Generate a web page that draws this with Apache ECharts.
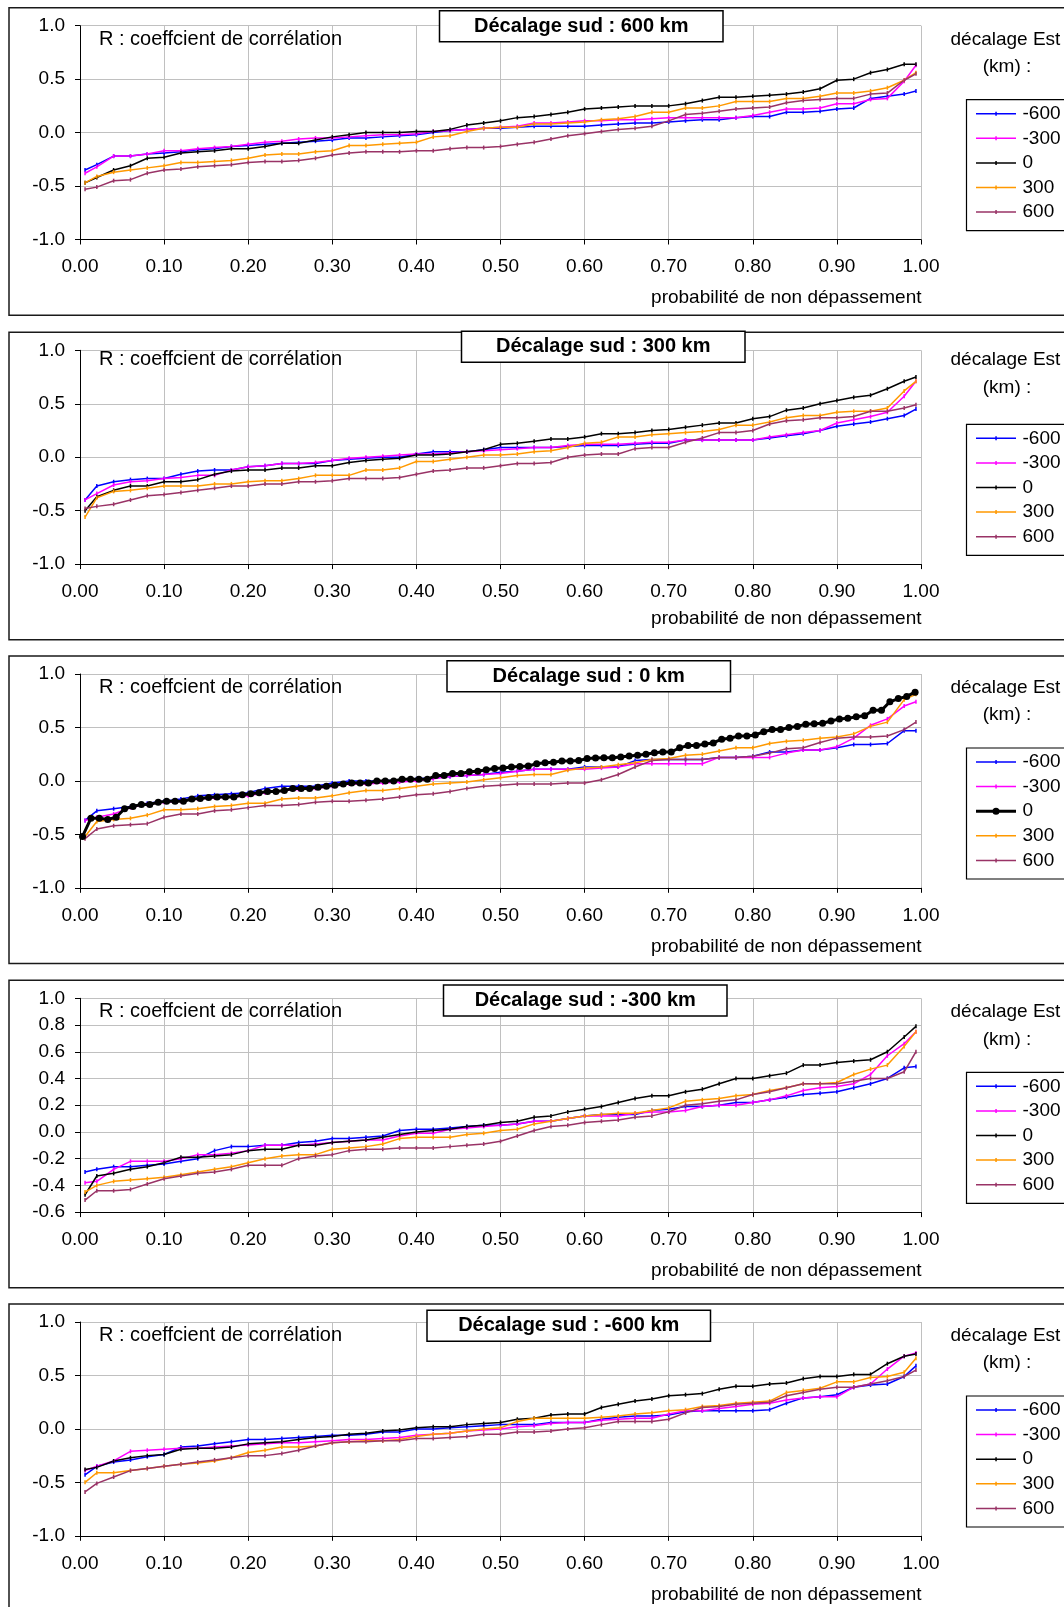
<!DOCTYPE html>
<html><head><meta charset="utf-8">
<script src="https://cdn.jsdelivr.net/npm/echarts/dist/echarts.min.js"></script>
<style>html,body{margin:0;padding:0;background:#fff;}#c{width:1064px;height:1607px;}</style>
</head><body><div id="c"></div>
<script>
// ---------------- DATA ----------------
const PROB = [0.006,0.02,0.04,0.06,0.08,0.10,0.12,0.14,0.16,0.18,0.20,0.22,0.24,0.26,0.28,0.30,0.32,0.34,0.36,0.38,0.40,0.42,0.44,0.46,0.48,0.50,0.52,0.54,0.56,0.58,0.60,0.62,0.64,0.66,0.68,0.70,0.72,0.74,0.76,0.78,0.80,0.82,0.84,0.86,0.88,0.90,0.92,0.94,0.96,0.98,0.994];
const PROB_FINE = [0.003,0.013,0.023,0.033,0.043,0.053,0.063,0.073,0.083,0.093,0.103,0.113,0.123,0.133,0.143,0.153,0.163,0.173,0.183,0.193,0.203,0.213,0.223,0.233,0.243,0.253,0.263,0.273,0.283,0.293,0.303,0.313,0.323,0.333,0.343,0.353,0.363,0.373,0.383,0.393,0.403,0.413,0.423,0.433,0.443,0.453,0.463,0.473,0.483,0.493,0.503,0.513,0.523,0.533,0.543,0.553,0.563,0.573,0.583,0.593,0.603,0.613,0.623,0.633,0.643,0.653,0.663,0.673,0.683,0.693,0.703,0.713,0.723,0.733,0.743,0.753,0.763,0.773,0.783,0.793,0.803,0.813,0.823,0.833,0.843,0.853,0.863,0.873,0.883,0.893,0.903,0.913,0.923,0.933,0.943,0.953,0.963,0.973,0.983,0.993];

const SERIES_NAMES = ['-600','-300','0','300','600'];
const PANEL_TITLES = ['Décalage sud : 600 km','Décalage sud : 300 km','Décalage sud : 0 km','Décalage sud : -300 km','Décalage sud : -600 km'];
const X_TICKS = [0,0.1,0.2,0.3,0.4,0.5,0.6,0.7,0.8,0.9,1.0];

// Panel 1 : décalage sud 600 km
const P1_M600 = [-0.35,-0.30,-0.22,-0.22,-0.20,-0.19,-0.18,-0.16,-0.15,-0.13,-0.12,-0.11,-0.10,-0.09,-0.08,-0.07,-0.05,-0.05,-0.04,-0.03,-0.02,0.00,0.02,0.03,0.04,0.04,0.05,0.06,0.06,0.06,0.06,0.07,0.08,0.09,0.09,0.10,0.11,0.12,0.12,0.14,0.15,0.15,0.19,0.19,0.20,0.22,0.23,0.32,0.34,0.36,0.39];
const P1_M300 = [-0.38,-0.32,-0.22,-0.22,-0.20,-0.17,-0.17,-0.15,-0.14,-0.13,-0.11,-0.09,-0.08,-0.06,-0.05,-0.05,-0.04,-0.03,-0.02,-0.02,-0.01,0.01,0.02,0.03,0.04,0.05,0.06,0.09,0.09,0.10,0.11,0.11,0.12,0.12,0.13,0.14,0.14,0.14,0.14,0.14,0.16,0.19,0.22,0.22,0.23,0.27,0.27,0.31,0.32,0.48,0.63];
const P1_0    = [-0.47,-0.42,-0.35,-0.31,-0.24,-0.23,-0.19,-0.18,-0.17,-0.15,-0.15,-0.13,-0.10,-0.10,-0.07,-0.04,-0.02,0.00,0.00,0.00,0.01,0.01,0.03,0.07,0.09,0.11,0.14,0.15,0.17,0.19,0.22,0.23,0.24,0.25,0.25,0.25,0.27,0.30,0.33,0.33,0.34,0.35,0.36,0.38,0.41,0.49,0.50,0.56,0.59,0.64,0.64];
const P1_300  = [-0.47,-0.41,-0.37,-0.35,-0.33,-0.31,-0.28,-0.28,-0.27,-0.26,-0.24,-0.21,-0.20,-0.20,-0.18,-0.17,-0.12,-0.12,-0.11,-0.10,-0.09,-0.04,-0.03,0.01,0.04,0.05,0.05,0.08,0.08,0.09,0.10,0.12,0.13,0.15,0.19,0.19,0.23,0.23,0.25,0.29,0.29,0.29,0.32,0.32,0.34,0.37,0.37,0.39,0.42,0.49,0.56];
const P1_600  = [-0.53,-0.51,-0.45,-0.44,-0.38,-0.35,-0.34,-0.32,-0.31,-0.30,-0.28,-0.27,-0.27,-0.26,-0.24,-0.21,-0.19,-0.18,-0.18,-0.18,-0.17,-0.17,-0.15,-0.14,-0.14,-0.13,-0.11,-0.09,-0.06,-0.03,-0.01,0.01,0.03,0.04,0.06,0.11,0.17,0.18,0.20,0.22,0.23,0.24,0.28,0.30,0.31,0.32,0.32,0.36,0.37,0.49,0.55];

// Panel 2 : décalage sud 300 km
const P2_M600 = [-0.40,-0.27,-0.23,-0.21,-0.20,-0.20,-0.16,-0.13,-0.12,-0.12,-0.09,-0.08,-0.06,-0.06,-0.06,-0.03,-0.02,-0.01,0.00,0.00,0.03,0.05,0.05,0.05,0.07,0.09,0.09,0.09,0.09,0.10,0.11,0.11,0.11,0.12,0.13,0.13,0.16,0.16,0.16,0.16,0.16,0.18,0.20,0.22,0.25,0.29,0.31,0.33,0.36,0.39,0.45];
const P2_M300 = [-0.40,-0.34,-0.26,-0.23,-0.22,-0.20,-0.19,-0.17,-0.17,-0.12,-0.09,-0.08,-0.06,-0.06,-0.05,-0.03,-0.01,0.00,0.01,0.02,0.03,0.03,0.04,0.05,0.06,0.07,0.08,0.09,0.09,0.11,0.12,0.12,0.12,0.13,0.14,0.14,0.16,0.16,0.16,0.16,0.16,0.19,0.21,0.23,0.25,0.32,0.35,0.38,0.42,0.57,0.71];
const P2_0    = [-0.50,-0.37,-0.31,-0.27,-0.27,-0.23,-0.23,-0.21,-0.16,-0.13,-0.12,-0.12,-0.10,-0.10,-0.08,-0.08,-0.05,-0.03,-0.02,-0.01,0.02,0.02,0.03,0.05,0.07,0.12,0.13,0.15,0.17,0.17,0.19,0.22,0.22,0.23,0.25,0.26,0.28,0.30,0.32,0.32,0.36,0.38,0.44,0.46,0.50,0.53,0.56,0.58,0.64,0.71,0.75];
const P2_300  = [-0.56,-0.38,-0.32,-0.31,-0.29,-0.27,-0.27,-0.27,-0.25,-0.25,-0.23,-0.22,-0.22,-0.20,-0.17,-0.17,-0.17,-0.12,-0.12,-0.10,-0.04,-0.04,-0.02,0.00,0.02,0.02,0.03,0.05,0.06,0.09,0.13,0.14,0.19,0.19,0.21,0.22,0.23,0.24,0.26,0.30,0.30,0.33,0.37,0.39,0.39,0.42,0.43,0.43,0.46,0.62,0.71];
const P2_600  = [-0.48,-0.46,-0.44,-0.40,-0.36,-0.35,-0.33,-0.31,-0.29,-0.27,-0.27,-0.25,-0.25,-0.23,-0.23,-0.22,-0.20,-0.20,-0.20,-0.19,-0.16,-0.13,-0.12,-0.10,-0.10,-0.08,-0.06,-0.06,-0.05,0.00,0.02,0.03,0.03,0.08,0.09,0.09,0.14,0.18,0.23,0.23,0.25,0.31,0.34,0.35,0.37,0.37,0.38,0.43,0.43,0.46,0.49];

// Panel 3 : décalage sud 0 km
const P3_M600 = [-0.37,-0.28,-0.26,-0.24,-0.21,-0.19,-0.17,-0.14,-0.13,-0.12,-0.11,-0.07,-0.05,-0.05,-0.05,-0.02,0.00,0.00,0.00,0.01,0.02,0.03,0.04,0.05,0.06,0.08,0.09,0.11,0.11,0.11,0.13,0.13,0.13,0.19,0.20,0.20,0.20,0.20,0.22,0.22,0.23,0.27,0.27,0.29,0.29,0.31,0.34,0.34,0.35,0.47,0.47];
const P3_M300 = [-0.37,-0.34,-0.31,-0.25,-0.22,-0.20,-0.19,-0.17,-0.16,-0.15,-0.14,-0.11,-0.09,-0.08,-0.07,-0.05,-0.03,-0.03,-0.02,-0.01,0.00,0.02,0.04,0.05,0.06,0.07,0.09,0.11,0.11,0.11,0.11,0.12,0.13,0.16,0.16,0.16,0.16,0.16,0.22,0.22,0.22,0.22,0.26,0.29,0.29,0.32,0.40,0.52,0.58,0.70,0.74];
const P3_0    = [-0.52,-0.35,-0.35,-0.36,-0.34,-0.26,-0.24,-0.22,-0.22,-0.20,-0.19,-0.19,-0.19,-0.17,-0.165,-0.155,-0.15,-0.15,-0.15,-0.13,-0.12,-0.11,-0.10,-0.10,-0.09,-0.07,-0.07,-0.07,-0.06,-0.05,-0.04,-0.03,-0.02,-0.02,-0.02,0.00,0.00,0.00,0.015,0.015,0.015,0.015,0.05,0.05,0.07,0.07,0.085,0.09,0.105,0.115,0.12,0.13,0.135,0.14,0.16,0.17,0.175,0.186,0.186,0.19,0.21,0.215,0.217,0.217,0.224,0.233,0.24,0.25,0.264,0.27,0.27,0.31,0.33,0.33,0.345,0.355,0.39,0.40,0.42,0.42,0.43,0.46,0.48,0.48,0.50,0.51,0.53,0.534,0.54,0.56,0.58,0.585,0.60,0.61,0.66,0.66,0.74,0.77,0.79,0.83];
const P3_300  = [-0.52,-0.38,-0.36,-0.35,-0.32,-0.27,-0.27,-0.26,-0.24,-0.23,-0.21,-0.21,-0.17,-0.16,-0.16,-0.14,-0.11,-0.09,-0.09,-0.07,-0.05,-0.03,-0.02,-0.01,0.01,0.03,0.05,0.06,0.06,0.10,0.12,0.13,0.15,0.17,0.20,0.21,0.24,0.25,0.28,0.31,0.31,0.35,0.37,0.38,0.40,0.41,0.44,0.51,0.55,0.76,0.81];
const P3_600  = [-0.54,-0.45,-0.42,-0.41,-0.40,-0.34,-0.31,-0.31,-0.28,-0.27,-0.25,-0.23,-0.23,-0.22,-0.20,-0.19,-0.19,-0.18,-0.17,-0.15,-0.13,-0.12,-0.10,-0.07,-0.05,-0.04,-0.03,-0.03,-0.03,-0.02,-0.02,0.01,0.06,0.13,0.19,0.20,0.20,0.20,0.22,0.22,0.23,0.26,0.30,0.31,0.36,0.40,0.41,0.41,0.42,0.48,0.55];

// Panel 4 : décalage sud -300 km
const P4_M600 = [-0.30,-0.28,-0.26,-0.26,-0.25,-0.24,-0.22,-0.20,-0.14,-0.11,-0.11,-0.10,-0.10,-0.08,-0.07,-0.05,-0.05,-0.04,-0.03,0.01,0.02,0.02,0.03,0.04,0.05,0.05,0.06,0.08,0.08,0.10,0.12,0.13,0.13,0.13,0.16,0.17,0.19,0.19,0.20,0.22,0.22,0.24,0.26,0.28,0.29,0.30,0.33,0.36,0.40,0.48,0.49];
const P4_M300 = [-0.38,-0.37,-0.28,-0.22,-0.22,-0.22,-0.20,-0.17,-0.17,-0.16,-0.14,-0.10,-0.10,-0.10,-0.09,-0.08,-0.07,-0.06,-0.06,-0.03,-0.01,-0.01,0.02,0.03,0.04,0.05,0.06,0.08,0.08,0.10,0.12,0.12,0.12,0.14,0.15,0.15,0.16,0.19,0.20,0.20,0.22,0.24,0.27,0.31,0.33,0.34,0.36,0.43,0.57,0.66,0.75];
const P4_0    = [-0.47,-0.33,-0.31,-0.28,-0.26,-0.23,-0.19,-0.19,-0.18,-0.17,-0.14,-0.13,-0.13,-0.10,-0.10,-0.08,-0.07,-0.06,-0.04,-0.02,0.00,0.01,0.02,0.04,0.05,0.07,0.08,0.11,0.12,0.15,0.17,0.19,0.22,0.25,0.27,0.27,0.30,0.32,0.36,0.40,0.40,0.42,0.44,0.50,0.50,0.52,0.53,0.54,0.60,0.71,0.79];
const P4_300  = [-0.45,-0.40,-0.37,-0.36,-0.35,-0.34,-0.32,-0.30,-0.28,-0.26,-0.23,-0.20,-0.18,-0.17,-0.17,-0.13,-0.12,-0.11,-0.09,-0.05,-0.04,-0.04,-0.04,-0.02,-0.01,0.01,0.02,0.06,0.08,0.10,0.12,0.13,0.14,0.14,0.16,0.18,0.23,0.24,0.25,0.27,0.28,0.31,0.33,0.36,0.36,0.37,0.43,0.47,0.50,0.64,0.75];
const P4_600  = [-0.51,-0.44,-0.44,-0.43,-0.39,-0.35,-0.33,-0.31,-0.30,-0.28,-0.25,-0.25,-0.25,-0.20,-0.18,-0.17,-0.14,-0.13,-0.13,-0.12,-0.12,-0.12,-0.11,-0.10,-0.09,-0.07,-0.03,0.01,0.04,0.05,0.07,0.08,0.09,0.11,0.12,0.15,0.20,0.21,0.23,0.24,0.28,0.30,0.33,0.36,0.36,0.36,0.38,0.40,0.40,0.45,0.60];

// Panel 5 : décalage sud -600 km
const P5_M600 = [-0.43,-0.35,-0.31,-0.29,-0.26,-0.24,-0.17,-0.16,-0.14,-0.12,-0.10,-0.10,-0.09,-0.08,-0.07,-0.06,-0.06,-0.05,-0.03,-0.03,0.00,0.00,0.01,0.02,0.03,0.04,0.04,0.04,0.06,0.06,0.06,0.09,0.11,0.12,0.12,0.13,0.16,0.17,0.17,0.17,0.17,0.18,0.24,0.29,0.30,0.32,0.39,0.41,0.42,0.49,0.59];
const P5_M300 = [-0.39,-0.35,-0.30,-0.21,-0.20,-0.19,-0.18,-0.18,-0.17,-0.16,-0.15,-0.14,-0.13,-0.13,-0.12,-0.11,-0.10,-0.10,-0.09,-0.08,-0.06,-0.05,-0.04,-0.02,-0.01,0.00,0.02,0.03,0.05,0.06,0.06,0.08,0.09,0.10,0.10,0.14,0.17,0.17,0.19,0.21,0.23,0.24,0.27,0.29,0.30,0.30,0.39,0.42,0.56,0.68,0.71];
const P5_0    = [-0.38,-0.36,-0.30,-0.27,-0.25,-0.24,-0.19,-0.18,-0.18,-0.17,-0.14,-0.13,-0.12,-0.10,-0.08,-0.07,-0.05,-0.04,-0.02,-0.01,0.01,0.02,0.02,0.04,0.05,0.06,0.09,0.10,0.13,0.14,0.14,0.20,0.23,0.26,0.28,0.31,0.32,0.33,0.37,0.40,0.40,0.42,0.43,0.47,0.49,0.49,0.51,0.51,0.61,0.68,0.70];
const P5_300  = [-0.50,-0.41,-0.41,-0.39,-0.37,-0.35,-0.33,-0.32,-0.30,-0.27,-0.22,-0.20,-0.17,-0.17,-0.16,-0.13,-0.12,-0.11,-0.11,-0.10,-0.07,-0.05,-0.04,-0.02,0.00,0.01,0.07,0.10,0.10,0.10,0.10,0.11,0.12,0.14,0.15,0.17,0.18,0.21,0.22,0.24,0.25,0.26,0.34,0.36,0.38,0.44,0.44,0.48,0.49,0.53,0.66];
const P5_600  = [-0.59,-0.51,-0.45,-0.39,-0.37,-0.35,-0.33,-0.31,-0.29,-0.27,-0.25,-0.25,-0.23,-0.20,-0.16,-0.13,-0.12,-0.12,-0.11,-0.11,-0.09,-0.09,-0.08,-0.07,-0.05,-0.05,-0.03,-0.03,-0.02,0.00,0.01,0.04,0.07,0.07,0.07,0.09,0.15,0.20,0.21,0.23,0.24,0.25,0.31,0.34,0.37,0.39,0.39,0.42,0.45,0.49,0.55];

// ---------------- STYLE / LAYOUT ----------------
const FONT = 'Liberation Sans, Arial, sans-serif';
const COLORS = ['#0000FF','#FF00FF','#000000','#FF9900','#993366'];
const PLOT_LEFT = 80, PLOT_W = 841, PLOT_H = 213.8;
const PLOT_TOPS = [25.7, 350.3, 674, 998.3, 1322];
const TXT_SHIFT = [0, -4, 0, 0, 0];
const TITLE_BOX = [[439.5,10.7],[461.5,331.3],[447,660.7],[443.5,985],[427,1310.3]];

const PANELS = [
  {series:[P1_M600,P1_M300,P1_0,P1_300,P1_600], ymin:-1, ymax:1, yint:0.5},
  {series:[P2_M600,P2_M300,P2_0,P2_300,P2_600], ymin:-1, ymax:1, yint:0.5},
  {series:[P3_M600,P3_M300,P3_0,P3_300,P3_600], ymin:-1, ymax:1, yint:0.5, bold:2},
  {series:[P4_M600,P4_M300,P4_0,P4_300,P4_600], ymin:-0.6, ymax:1, yint:0.2},
  {series:[P5_M600,P5_M300,P5_0,P5_300,P5_600], ymin:-1, ymax:1, yint:0.5}
];

const grids = [], xAxes = [], yAxes = [], series = [], elements = [];

PANELS.forEach((p, i) => {
  const top = PLOT_TOPS[i];
  grids.push({left: PLOT_LEFT, top: top, width: PLOT_W, height: PLOT_H, containLabel: false});
  xAxes.push({
    type:'value', gridIndex:i, min:0, max:1, interval:0.1,
    axisLine:{show:true, onZero:false, lineStyle:{color:'#000', width:1}},
    axisTick:{show:true, length:5, inside:false, lineStyle:{color:'#000'}},
    axisLabel:{fontSize:19, fontFamily:FONT, color:'#000', margin:18, formatter:v=>v.toFixed(2)},
    splitLine:{show:true, lineStyle:{color:'#C0C0C0', width:1}}
  });
  yAxes.push({
    type:'value', gridIndex:i, min:p.ymin, max:p.ymax, interval:p.yint,
    axisLine:{show:true, onZero:false, lineStyle:{color:'#000', width:1}},
    axisTick:{show:true, length:5, inside:false, lineStyle:{color:'#000'}},
    axisLabel:{fontSize:19, fontFamily:FONT, color:'#000', margin:15, formatter:v=>(Math.abs(v)<1e-9?0:v).toFixed(1)},
    splitLine:{show:true, lineStyle:{color:'#C0C0C0', width:1}}
  });
  p.series.forEach((vals, s) => {
    const isBold = (p.bold === s);
    const xs = isBold ? PROB_FINE : PROB;
    series.push({
      type:'line', name: SERIES_NAMES[s], xAxisIndex:i, yAxisIndex:i,
      data: vals.map((v,k)=>[xs[k], v]),
      symbol: isBold ? 'circle' : 'rect',
      symbolSize: isBold ? 7 : [1.5,4],
      showSymbol:true,
      lineStyle:{color:COLORS[s], width: isBold ? 3 : 1.5},
      itemStyle:{color:COLORS[s]},
      z: isBold ? 4 : 2,
      animation:false, silent:true
    });
  });

  const boxTop = top - 18;
  const sh = TXT_SHIFT[i];
  elements.push({type:'rect', z:100, shape:{x:9, y:boxTop, width:1080, height:307.5},
    style:{fill:'none', stroke:'#1a1a1a', lineWidth:1.5}});
  const tb = TITLE_BOX[i];
  elements.push({type:'rect', z:101, shape:{x:tb[0], y:tb[1], width:283.5, height:31},
    style:{fill:'#fff', stroke:'#000', lineWidth:1.5}});
  elements.push({type:'text', z:102, x:tb[0]+141.75, y:tb[1]+15.5,
    style:{text:PANEL_TITLES[i], fontSize:20, fontWeight:'bold', fontFamily:FONT, fill:'#000', align:'center', verticalAlign:'middle'}});
  elements.push({type:'text', z:102, x:99, y:top+13.5+sh,
    style:{text:'R : coeffcient de corrélation', fontSize:20, fontFamily:FONT, fill:'#000', align:'left', verticalAlign:'middle'}});
  elements.push({type:'text', z:102, x:921.5, y:top+272.5+sh,
    style:{text:'probabilité de non dépassement', fontSize:19, fontFamily:FONT, fill:'#000', align:'right', verticalAlign:'middle'}});
  elements.push({type:'text', z:102, x:950.5, y:top+13.6+sh,
    style:{text:'décalage Est', fontSize:19, fontFamily:FONT, fill:'#000', align:'left', verticalAlign:'middle'}});
  elements.push({type:'text', z:102, x:1007, y:top+41+sh,
    style:{text:'(km) :', fontSize:19, fontFamily:FONT, fill:'#000', align:'center', verticalAlign:'middle'}});
  elements.push({type:'rect', z:100, shape:{x:966.5, y:top+74, width:120, height:131},
    style:{fill:'#fff', stroke:'#000', lineWidth:1.2}});
  SERIES_NAMES.forEach((nm, s) => {
    const ly = top + 88 + s*24.6;
    const isBold = (p.bold === s);
    elements.push({type:'line', z:103, shape:{x1:976, y1:ly, x2:1016, y2:ly},
      style:{stroke:COLORS[s], lineWidth: isBold ? 3 : 1.5}});
    if (isBold) {
      elements.push({type:'circle', z:104, shape:{cx:996, cy:ly, r:3.5}, style:{fill:COLORS[s]}});
    } else {
      elements.push({type:'rect', z:104, shape:{x:995.3, y:ly-2, width:1.5, height:4}, style:{fill:COLORS[s]}});
    }
    elements.push({type:'text', z:103, x:1022.5, y:ly,
      style:{text:nm, fontSize:19, fontFamily:FONT, fill:'#000', align:'left', verticalAlign:'middle'}});
  });
});

const chart = echarts.init(document.getElementById('c'), null, {renderer:'canvas'});
chart.setOption({
  animation:false,
  backgroundColor:'#fff',
  grid: grids, xAxis: xAxes, yAxis: yAxes, series: series,
  graphic: {elements: elements}
});
</script></body></html>
